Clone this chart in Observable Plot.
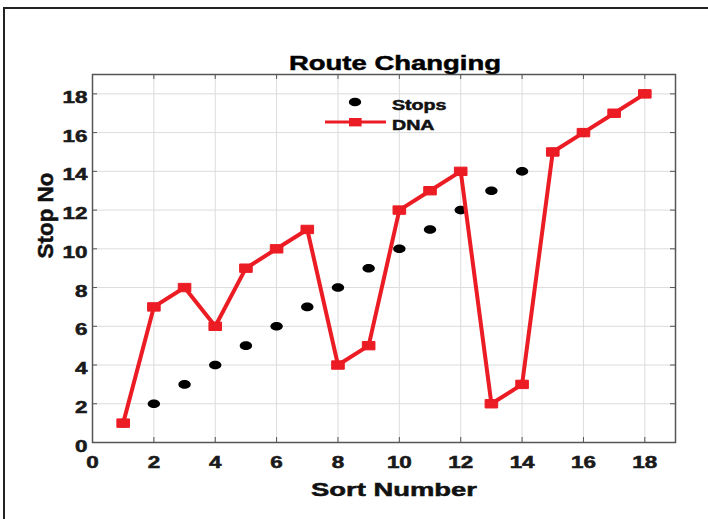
<!DOCTYPE html>
<html>
<head>
<meta charset="utf-8">
<script src="https://cdn.jsdelivr.net/npm/d3@7"></script>
<script src="https://cdn.jsdelivr.net/npm/@observablehq/plot@0.6"></script>
<style>
  html, body { margin: 0; padding: 0; background: #fff; }
  #wrap { position: relative; width: 708px; height: 519px; overflow: hidden; background: #fff; }
  #border { position: absolute; left: 3px; top: 7px; width: 760px; height: 600px; border: 2px solid #222; box-sizing: border-box; }
  #chart { position: absolute; left: 0; top: 0; }
</style>
</head>
<body>
<div id="wrap"><div id="border"></div><div id="chart"></div></div>
<script>
const sortNumber = [1, 2, 3, 4, 5, 6, 7, 8, 9, 10, 11, 12, 13, 14, 15, 16, 17, 18];
const stops      = [1, 2, 3, 4, 5, 6, 7, 8, 9, 10, 11, 12, 13, 14, 15, 16, 17, 18];
const dna        = [1, 7, 8, 6, 9, 10, 11, 4, 5, 12, 13, 14, 2, 3, 15, 16, 17, 18];
const xTicks = [0, 2, 4, 6, 8, 10, 12, 14, 16, 18];
const yTicks = [0, 2, 4, 6, 8, 10, 12, 14, 16, 18];
const titleText = "Route Changing";
const xLabel = "Sort Number";
const yLabel = "Stop No";
const seriesNames = ["Stops", "DNA"];

const rows = sortNumber.map((s, i) => ({sort: s, stop: stops[i], dna: dna[i]}));

const RED = "#ec1c24";
const FRAME = "#555";
const W = 708, H = 519, ML = 92, MR = 33, MT = 74, MB = 77;
const PW = W - ML - MR, PH = H - MT - MB;

const ellipse = {
  draw(ctx, size) {
    const rx = 6.2, ry = 4.3, k = 0.5523;
    ctx.moveTo(rx, 0);
    ctx.bezierCurveTo(rx, k * ry, k * rx, ry, 0, ry);
    ctx.bezierCurveTo(-k * rx, ry, -rx, k * ry, -rx, 0);
    ctx.bezierCurveTo(-rx, -k * ry, -k * rx, -ry, 0, -ry);
    ctx.bezierCurveTo(k * rx, -ry, rx, -k * ry, rx, 0);
    ctx.closePath();
  }
};
const rectSym = {
  draw(ctx, size) {
    const w = 6.3, h = 4.2;
    ctx.moveTo(-w, -h); ctx.lineTo(w, -h); ctx.lineTo(w, h); ctx.lineTo(-w, h); ctx.closePath();
  }
};

const chart = Plot.plot({
  width: W, height: H,
  marginLeft: ML, marginRight: MR, marginTop: MT, marginBottom: MB,
  x: {domain: [0, 19]},
  y: {domain: [0, 19]},
  style: {fontFamily: "Liberation Sans, Arial, sans-serif", fontWeight: "bold", background: "transparent", color: "#111"},
  marks: [
    Plot.gridX(xTicks, {stroke: "#dcdcdc", strokeOpacity: 1}),
    Plot.gridY(yTicks, {stroke: "#dcdcdc", strokeOpacity: 1}),
    Plot.tickX(xTicks, {x: d => d, insetTop: PH - 5, stroke: FRAME}),
    Plot.tickX(xTicks, {x: d => d, insetBottom: PH - 5, stroke: FRAME}),
    Plot.tickY(yTicks, {y: d => d, insetRight: PW - 5, stroke: FRAME}),
    Plot.tickY(yTicks, {y: d => d, insetLeft: PW - 5, stroke: FRAME}),
    Plot.frame({stroke: FRAME, strokeWidth: 1.5}),
    Plot.axisX(xTicks, {tickSize: 0, tickPadding: 14, fontSize: 16, fontWeight: "bold", fill: "#1a1a1a", label: null}),
    Plot.axisY(yTicks, {tickSize: 0, tickPadding: 5, fontSize: 16, fontWeight: "bold", fill: "#1a1a1a", dy: 4, label: null}),
    Plot.dot(rows, {x: "sort", y: "stop", symbol: ellipse, fill: "#000", stroke: "none"}),
    Plot.line(rows, {x: "sort", y: "dna", stroke: RED, strokeWidth: 4, strokeLinejoin: "miter"}),
    Plot.dot(rows, {x: "sort", y: "dna", symbol: rectSym, fill: RED, stroke: RED, strokeWidth: 1}),
    Plot.text([titleText], {frameAnchor: "top", dx: 11, dy: -5, lineAnchor: "bottom", fontSize: 20, fontWeight: "bold", fill: "#000"}),
    Plot.text([xLabel], {frameAnchor: "bottom", dx: 10, dy: 53, lineAnchor: "bottom", fontSize: 19, fontWeight: "bold", fill: "#111"}),
    Plot.text([yLabel], {frameAnchor: "left", dx: -40, rotate: -90, lineAnchor: "bottom", fontSize: 22, fontWeight: "bold", fill: "#111"})
  ]
});
document.getElementById("chart").appendChild(chart);

// Legend (inside the axes, no box)
const svg = d3.select(chart);
const lg = svg.append("g").attr("font-family", "Liberation Sans, Arial, sans-serif").attr("font-weight", "bold").attr("text-anchor", "start");
lg.append("ellipse").attr("cx", 355).attr("cy", 102).attr("rx", 6.2).attr("ry", 4.3).attr("fill", "#000");
lg.append("line").attr("x1", 325).attr("x2", 386).attr("y1", 122).attr("y2", 122).attr("stroke", RED).attr("stroke-width", 3);
lg.append("rect").attr("x", 349).attr("y", 118).attr("width", 12.6).attr("height", 8.4).attr("fill", RED);
lg.append("text").attr("x", 392).attr("y", 110).attr("font-size", 14).attr("fill", "#111").text(seriesNames[0]);
lg.append("text").attr("x", 392).attr("y", 130).attr("font-size", 14).attr("fill", "#111").text(seriesNames[1]);

// Horizontal stretch and heavier weight of the text, as in the reference raster
const targets = {"Route Changing": 212, "Sort Number": 166, "Stop No": 86};
svg.selectAll("text").each(function() {
  const t = this.textContent;
  const len = this.getComputedTextLength();
  if (!len) return;
  const target = targets[t] !== undefined ? targets[t] : len * 1.4;
  this.setAttribute("textLength", target);
  this.setAttribute("lengthAdjust", "spacingAndGlyphs");
  this.setAttribute("stroke", "#111");
  this.setAttribute("stroke-width", 0.5);
  this.setAttribute("paint-order", "stroke");
});
</script>
</body>
</html>
